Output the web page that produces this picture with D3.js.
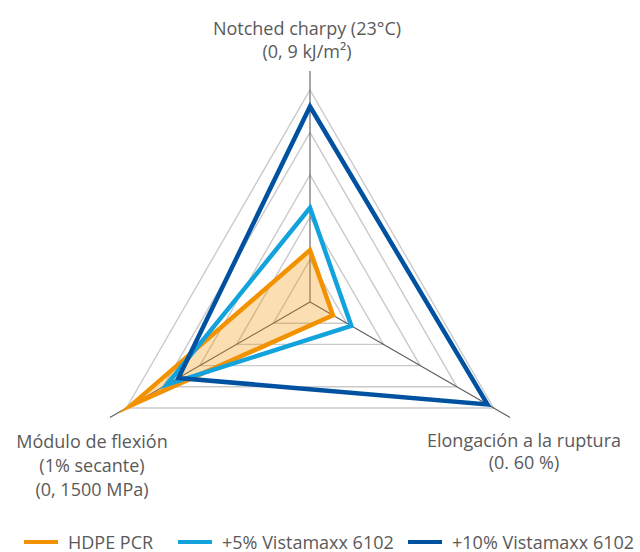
<!DOCTYPE html>
<html>
<head>
<meta charset="utf-8">
<script src="https://cdnjs.cloudflare.com/ajax/libs/d3/7.8.5/d3.min.js"></script>
<style>
  body { margin: 0; background: #fff; }
  text { font-family: "Open Sans", "Noto Sans", sans-serif; fill: #5a5a5a; }
</style>
</head>
<body>
<svg id="chart" width="640" height="552"></svg>
<script>
// chart data
const axisNames = ["Notched charpy", "Elongación", "Módulo de flexión"];
const axisMax = [9, 60, 1500];
const axisLabels = [
  ["Notched charpy (23°C)", "(0, 9 kJ/m²)"],
  ["Elongación a la ruptura", "(0. 60 %)"],
  ["Módulo de flexión", "(1% secante)", "(0, 1500 MPa)"]
];
const seriesNames = ["HDPE PCR", "+5% Vistamaxx 6102", "+10% Vistamaxx 6102"];
const hdpeValues = [2.2, 7.5, 1460];
const vmx5Values = [4.0, 13.5, 1170];
const vmx10Values = [8.3, 58, 1075];
const seriesColors = ["#f39200", "#12a3dd", "#0052a0"];
const levels = 5;

const cx = 310, cy = 302, R = 212;
const svg = d3.select("#chart");
const g = svg.append("g").attr("transform", `translate(${cx},${cy})`);

// one radial scale per axis
const rScales = axisMax.map(m => d3.scaleLinear().domain([0, m]).range([0, R]));
const angle = d3.scaleLinear().domain([0, axisNames.length]).range([0, 2 * Math.PI]);

function pt(i, r) {
  const a = angle(i) - Math.PI / 2;
  return [r * Math.cos(a), r * Math.sin(a)];
}

// grid triangles
d3.range(1, levels + 1).forEach(l => {
  const pts = axisNames.map((d, i) => pt(i, R * l / levels));
  g.append("polygon")
    .attr("points", pts.map(p => p.join(",")).join(" "))
    .attr("fill", "none")
    .attr("stroke", "#cacaca")
    .attr("stroke-width", 1.4);
});

// axis lines
axisNames.forEach((d, i) => {
  const p = pt(i, R * 1.09);
  g.append("line")
    .attr("x1", 0).attr("y1", 0)
    .attr("x2", p[0]).attr("y2", p[1])
    .attr("stroke", "#5e5e5e")
    .attr("stroke-width", 1.1);
});

// series polygons
const allSeries = [hdpeValues, vmx5Values, vmx10Values];
const line = d3.line().curve(d3.curveLinearClosed);
allSeries.forEach((vals, s) => {
  const pts = vals.map((v, i) => pt(i, rScales[i](v)));
  g.append("path")
    .attr("d", line(pts))
    .attr("fill", s === 0 ? seriesColors[0] : "none")
    .attr("fill-opacity", s === 0 ? 0.3 : 0)
    .attr("stroke", seriesColors[s])
    .attr("stroke-width", 4.5)
    .attr("stroke-linejoin", "miter")
    .attr("stroke-miterlimit", 10);
});

// axis labels
const labelPos = [[307, 35], [524, 447], [92, 448]];
const lineGap = [23, 22, 24];
axisLabels.forEach((lines, i) => {
  const t = svg.append("text")
    .attr("x", labelPos[i][0]).attr("y", labelPos[i][1])
    .attr("text-anchor", "middle")
    .style("font-size", "18px");
  lines.forEach((s, k) => {
    t.append("tspan")
      .attr("x", labelPos[i][0])
      .attr("dy", k === 0 ? 0 : lineGap[i])
      .text(s);
  });
});

// legend
const legendX = [24, 178, 408];
const legend = svg.append("g").attr("transform", "translate(0,542)");
seriesNames.forEach((n, s) => {
  legend.append("line")
    .attr("x1", legendX[s]).attr("x2", legendX[s] + 34)
    .attr("y1", 0).attr("y2", 0)
    .attr("stroke", seriesColors[s])
    .attr("stroke-width", 4);
  legend.append("text")
    .attr("x", legendX[s] + 44).attr("y", 6.5)
    .style("font-size", "18px")
    .text(n);
});
</script>
</body>
</html>
